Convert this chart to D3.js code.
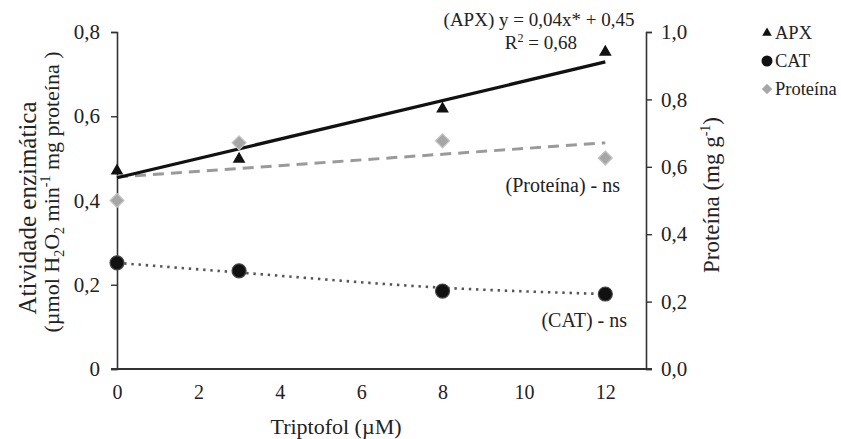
<!DOCTYPE html>
<html><head><meta charset="utf-8">
<script src="https://cdn.jsdelivr.net/npm/d3@7"></script>
<style>body{margin:0;background:#fff}svg{display:block}svg text{font-family:'Liberation Serif','Times New Roman','DejaVu Serif',serif !important;fill:#222}</style>
</head><body><div id="chart"></div>
<script>
// ---- data ----
const doses = [0, 3, 8, 12];                 // Triptofol (µM)
const apx = [0.468, 0.496, 0.615, 0.750];     // left axis
const cat = [0.252, 0.233, 0.185, 0.178];     // left axis
const proteina = [0.500, 0.671, 0.677, 0.626];// right axis
const apxTrendX = [0, 12], apxTrend = [0.454, 0.729];
const protTrendX = [0, 12], protTrend = [0.570, 0.671];
const catTrendX = [0, 3, 8, 12], catTrend = [0.252, 0.229, 0.193, 0.178];
const xTicks = [0, 2, 4, 6, 8, 10, 12];
const yLeftTicks = [0, 0.2, 0.4, 0.6, 0.8];
const yRightTicks = [0, 0.2, 0.4, 0.6, 0.8, 1.0];
const legendItems = ["APX", "CAT", "Proteína"];

const W = 841, H = 439;
const L = 117, R = 646, T = 32, B = 369;
const FONT = "'Liberation Serif','Times New Roman',serif";
const svg = d3.select("#chart").append("svg").attr("width", W).attr("height", H).attr("font-family", FONT);
const x = d3.scaleLinear().domain([0, 13]).range([L, R]);
const yL = d3.scaleLinear().domain([0, 0.8]).range([B, T]);
const yR = d3.scaleLinear().domain([0, 1.0]).range([B, T]);
const fmtL = v => v === 0 ? "0" : d3.format(".1f")(v).replace(".", ",");
const fmtR = v => d3.format(".1f")(v).replace(".", ",");

// axes
const gL = svg.append("g").attr("transform", `translate(${L},0)`)
  .call(d3.axisLeft(yL).tickValues(yLeftTicks).tickFormat(fmtL).tickSize(6).tickPadding(11));
const gR = svg.append("g").attr("transform", `translate(${R},0)`)
  .call(d3.axisRight(yR).tickValues(yRightTicks).tickFormat(fmtR).tickSize(6).tickPadding(9));
const gX = svg.append("g").attr("transform", `translate(0,${B})`)
  .call(d3.axisBottom(x).tickValues(xTicks).tickSize(0).tickPadding(16));
[gL, gR, gX].forEach(g => {
  g.attr("font-family", FONT).attr("font-size", 21);
  g.selectAll("path.domain").attr("stroke", "#333").attr("stroke-width", 1.6);
  g.selectAll(".tick line").attr("stroke", "#333").attr("stroke-width", 1.4);
  g.selectAll(".tick text").attr("fill", "#222");
});
gX.attr("font-size", 20);
gX.select("path.domain").attr("d", `M${L - 6},0H${R + 6}`).attr("stroke-width", 2);

// trendlines
const line = (xs, ys, ys_scale, curve) => d3.line().x((d, i) => x(xs[i])).y(d => ys_scale(d)).curve(curve || d3.curveLinear)(ys);
svg.append("path").attr("d", line(protTrendX, protTrend, yR)).attr("fill", "none")
  .attr("stroke", "#9a9a9a").attr("stroke-width", 3).attr("stroke-dasharray", "11,7");
svg.append("path").attr("d", line(catTrendX, catTrend, yL, d3.curveMonotoneX)).attr("fill", "none")
  .attr("stroke", "#555").attr("stroke-width", 2.6).attr("stroke-dasharray", "2.4,4.8");
svg.append("path").attr("d", line(apxTrendX, apxTrend, yL)).attr("fill", "none")
  .attr("stroke", "#111").attr("stroke-width", 3.2);

// markers
const tri = d3.symbol().type(d3.symbolTriangle).size(70);
const dia = (s) => `M0,${-s}L${s},0L0,${s}L${-s},0Z`;
svg.append("g").selectAll("path").data(proteina).join("path")
  .attr("transform", (d, i) => `translate(${x(doses[i])},${yR(d)})`)
  .attr("d", dia(7)).attr("fill", "#a6a6a6").attr("stroke", "#c4c4c4").attr("stroke-width", 1.2);
svg.append("g").selectAll("circle").data(cat).join("circle")
  .attr("cx", (d, i) => x(doses[i])).attr("cy", d => yL(d)).attr("r", 7)
  .attr("fill", "#111").attr("stroke", "#444").attr("stroke-width", 1.2);
svg.append("g").selectAll("path").data(apx).join("path")
  .attr("transform", (d, i) => `translate(${x(doses[i])},${yL(d) - 1})`)
  .attr("d", tri).attr("fill", "#111");

// annotations
const ann = svg.append("g").attr("font-size", 20);
ann.append("text").attr("x", 539).attr("y", 26).attr("text-anchor", "middle").attr("font-size", 19).text("(APX) y = 0,04x* + 0,45");
const r2 = ann.append("text").attr("x", 577).attr("y", 49).attr("text-anchor", "end").attr("font-size", 19);
r2.append("tspan").text("R");
r2.append("tspan").attr("font-size", 12).attr("dy", -7).text("2");
r2.append("tspan").attr("dy", 7).text(" = 0,68");
ann.append("text").attr("x", 620).attr("y", 192).attr("text-anchor", "end").text("(Proteína) - ns");
ann.append("text").attr("x", 627).attr("y", 327).attr("text-anchor", "end").text("(CAT) - ns");

// axis titles
svg.append("text").attr("x", 336).attr("y", 434).attr("text-anchor", "middle").attr("font-size", 22).text("Triptofol (µM)");
const lt = svg.append("g").attr("transform", "translate(36,0) rotate(-90)");
lt.append("text").attr("x", -208).attr("text-anchor", "middle").attr("font-size", 25).text("Atividade enzimática");
const l2 = lt.append("text").attr("x", -192).attr("y", 23).attr("text-anchor", "middle").attr("font-size", 22);
l2.append("tspan").text("(µmol H");
l2.append("tspan").attr("font-size", 14).attr("dy", 5).text("2");
l2.append("tspan").attr("dy", -5).text("O");
l2.append("tspan").attr("font-size", 14).attr("dy", 5).text("2");
l2.append("tspan").attr("dy", -5).text(" min");
l2.append("tspan").attr("font-size", 14).attr("dy", -9).text("-1");
l2.append("tspan").attr("dy", 9).text(" mg proteína )");
const rt = svg.append("text").attr("transform", "translate(719,195) rotate(-90)").attr("text-anchor", "middle").attr("font-size", 23);
rt.append("tspan").text("Proteína  (mg g");
rt.append("tspan").attr("font-size", 14).attr("dy", -9).text("-1");
rt.append("tspan").attr("dy", 9).text(")");

// legend
const lg = svg.append("g").attr("font-size", 18.5);
legendItems.forEach((name, i) => {
  const cy = 33 + i * 28, cx = 767;
  if (i === 0) lg.append("path").attr("transform", `translate(${cx},${cy})`).attr("d", d3.symbol().type(d3.symbolTriangle).size(40)).attr("fill", "#111");
  if (i === 1) lg.append("circle").attr("cx", cx).attr("cy", cy).attr("r", 5.5).attr("fill", "#111");
  if (i === 2) lg.append("path").attr("transform", `translate(${cx},${cy})`).attr("d", dia(5)).attr("fill", "#a6a6a6").attr("stroke", "#c4c4c4");
  lg.append("text").attr("x", 775).attr("y", cy + 6).text(name);
});
</script></body></html>
